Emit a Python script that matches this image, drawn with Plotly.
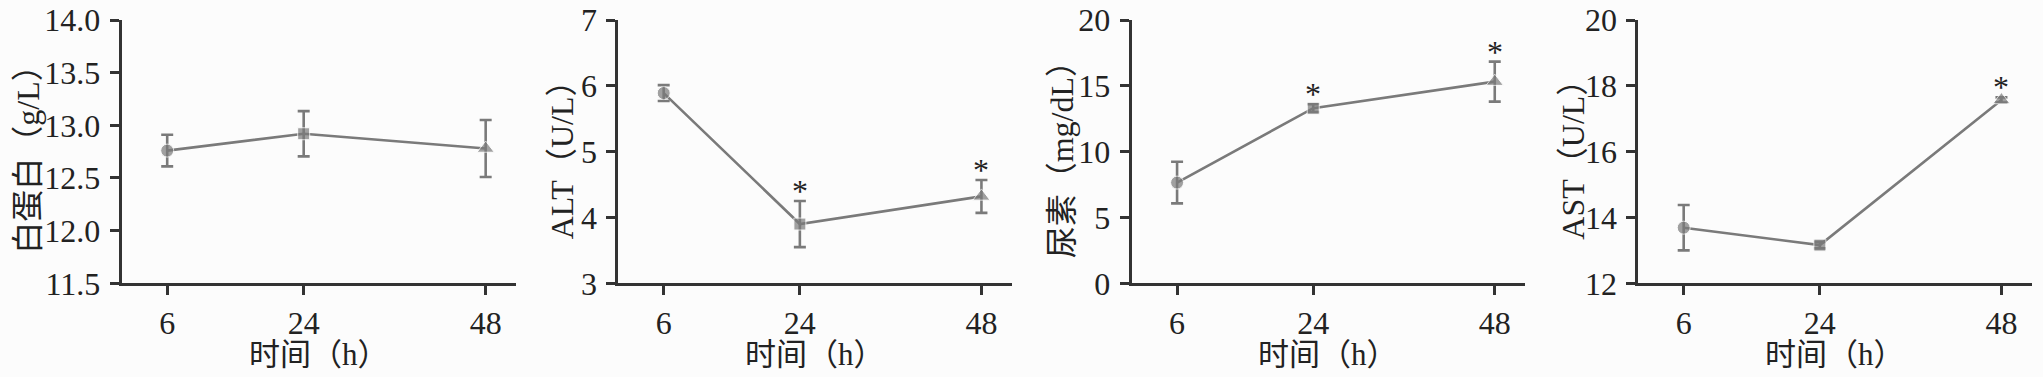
import plotly.graph_objects as go

W, H = 2043, 377

times = [6, 24, 48]
time_ticks = ["6", "24", "48"]

albumin_mean = [12.76, 12.92, 12.78]
albumin_err = [0.15, 0.215, 0.27]
alt_mean = [5.89, 3.90, 4.32]
alt_err = [0.12, 0.35, 0.25]
urea_mean = [7.65, 13.30, 15.32]
urea_err = [1.58, 0.30, 1.52]
ast_mean = [13.69, 13.16, 17.57]
ast_err = [0.69, 0.10, 0.08]

albumin_sig = [False, False, False]
alt_sig = [False, True, True]
urea_sig = [False, True, True]
ast_sig = [False, False, True]

y_titles = ["白蛋白（g/L）", "ALT（U/L）", "尿素（mg/dL）", "AST（U/L）"]
y_ranges = [[11.5, 14.0], [3, 7], [0, 20], [12, 20]]
y_dticks = [0.5, 1, 5, 2]
y_formats = [".1f", "d", "d", "d"]
x_title = "时间（h）"

panels = [
    (albumin_mean, albumin_err, albumin_sig),
    (alt_mean, alt_err, alt_sig),
    (urea_mean, urea_err, urea_sig),
    (ast_mean, ast_err, ast_sig),
]

# pixel positions of plot areas and y-title centres
x_px = [(121.7, 516), (618.3, 1011.7), (1131.7, 1525), (1638.3, 2031.7)]
ytitle_x_px = [28, 561.7, 1061.7, 1573]
y_top_px, y_bot_px = 20, 283.3
ydom = [1 - y_bot_px / H, 1 - y_top_px / H]

FONT = "Liberation Serif, Times New Roman, Noto Sans CJK SC, serif"
TC = "#222222"
AXC = "#333333"
LC = "#7a7a7a"
symbols = ["circle", "square", "triangle-up"]
sizes = [13, 12, 15]

fig = go.Figure()
layout = dict(
    width=W, height=H,
    margin=dict(l=0, r=0, t=0, b=0, pad=0, autoexpand=False),
    paper_bgcolor="#fcfcfc", plot_bgcolor="rgba(0,0,0,0)",
    showlegend=False,
    font=dict(family=FONT, size=32, color=TC),
)
annotations = []

for i, (mean, err, sig) in enumerate(panels):
    xa = "x" if i == 0 else f"x{i+1}"
    ya = "y" if i == 0 else f"y{i+1}"
    fig.add_trace(go.Scatter(
        x=times, y=mean, xaxis=xa, yaxis=ya,
        mode="lines+markers",
        line=dict(color=LC, width=2.6),
        marker=dict(symbol=symbols, size=sizes, color=LC),
        error_y=dict(type="data", array=err, visible=True, color=LC, thickness=2.6, width=6),
        cliponaxis=False,
    ))
    key = "" if i == 0 else str(i + 1)
    x0, x1 = x_px[i]
    layout["xaxis" + key] = dict(
        domain=[x0 / W, x1 / W], anchor=ya, range=[0, 52], automargin=False,
        tickmode="array", tickvals=times, ticktext=time_ticks,
        showline=True, linecolor=AXC, linewidth=3, mirror=False,
        ticks="outside", ticklen=9, tickwidth=3, tickcolor=AXC,
        ticklabelstandoff=0,
        showgrid=False, zeroline=False,
        tickfont=dict(family=FONT, size=32, color=TC),
    )
    layout["yaxis" + key] = dict(
        domain=ydom, anchor=xa, range=y_ranges[i], dtick=y_dticks[i],
        tickformat=y_formats[i], automargin=False,
        showline=True, linecolor=AXC, linewidth=3,
        ticks="outside", ticklen=9, tickwidth=3, tickcolor=AXC,
        ticklabelstandoff=3,
        showgrid=False, zeroline=False,
        tickfont=dict(family=FONT, size=32, color=TC),
    )
    # axis titles as annotations
    annotations.append(dict(
        x=(x0 + x1) / 2 / W, y=1 - 354 / H, xref="paper", yref="paper",
        text=x_title, showarrow=False, xanchor="center", yanchor="middle",
        font=dict(family=FONT, size=31, color=TC),
    ))
    annotations.append(dict(
        x=ytitle_x_px[i] / W, y=1 - (y_top_px + y_bot_px) / 2 / H, xref="paper", yref="paper",
        text=y_titles[i], showarrow=False, xanchor="center", yanchor="middle",
        textangle=-90, font=dict(family=FONT, size=32, color=TC),
    ))
    for t, m, e, s in zip(times, mean, err, sig):
        if s:
            annotations.append(dict(
                x=t, y=m + e, xref=xa, yref=ya, text="*", showarrow=False,
                yanchor="middle", yshift=10,
                font=dict(family=FONT, size=32, color=TC),
            ))

layout["annotations"] = annotations
fig.update_layout(**layout)
fig.write_html("out.html")
